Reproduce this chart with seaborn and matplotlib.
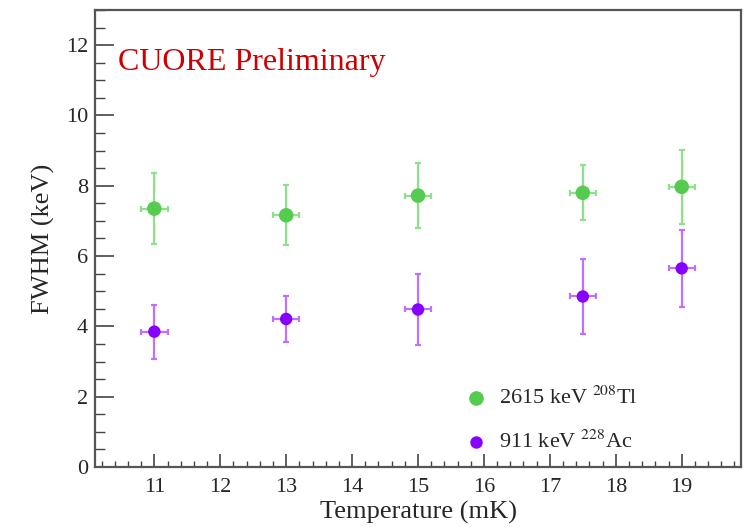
import matplotlib
matplotlib.use("Agg")
import matplotlib.pyplot as plt
import seaborn as sns
import pandas as pd
from matplotlib.ticker import MultipleLocator

# ---- data ----
temps = [11, 13, 15, 17.5, 19]
temp_err = [0.2, 0.2, 0.2, 0.2, 0.2]
tl_fwhm = [7.35, 7.16, 7.72, 7.80, 7.97]
tl_err = [1.02, 0.85, 0.93, 0.78, 1.06]
ac_fwhm = [3.85, 4.21, 4.48, 4.85, 5.65]
ac_err = [0.77, 0.66, 1.00, 1.08, 1.10]
series_labels = ["2615 keV $^{208}$Tl", "911 keV $^{228}$Ac"]
x_ticks = [11, 12, 13, 14, 15, 16, 17, 18, 19]
y_ticks = [0, 2, 4, 6, 8, 10, 12]

sns.set_style("ticks")
plt.rcParams["font.family"] = ["Liberation Serif", "DejaVu Serif"]
plt.rcParams["mathtext.fontset"] = "stix"

green = "#55cc4f"
green_err = "#8fe08a"
purple = "#8800ff"
purple_err = "#c070ff"

df = pd.DataFrame({
    "T": temps * 2,
    "FWHM": tl_fwhm + ac_fwhm,
    "series": [series_labels[0]] * len(temps) + [series_labels[1]] * len(temps),
})

fig = plt.figure(figsize=(7.47, 5.27), dpi=100)
ax = fig.add_axes([0.1272, 0.1139, 0.8648, 0.8671])

ax.errorbar(temps, tl_fwhm, yerr=tl_err, xerr=temp_err, fmt="none",
            ecolor=green_err, elinewidth=1.6, capsize=2, capthick=1.6, zorder=2)
ax.errorbar(temps, ac_fwhm, yerr=ac_err, xerr=temp_err, fmt="none",
            ecolor=purple_err, elinewidth=1.6, capsize=2, capthick=1.6, zorder=2)

sns.scatterplot(data=df, x="T", y="FWHM", hue="series", size="series",
                sizes={series_labels[0]: 110, series_labels[1]: 80},
                palette={series_labels[0]: green, series_labels[1]: purple},
                linewidth=0, ax=ax, zorder=3, legend=False)

# legend
h1 = ax.scatter([], [], s=110, color=green, linewidth=0)
h2 = ax.scatter([], [], s=80, color=purple, linewidth=0)
ax.legend([h1, h2], series_labels, loc="upper left",
          bbox_to_anchor=(0.556, 0.175), frameon=False, fontsize=16,
          labelspacing=0.95, handletextpad=0.0, borderpad=0, borderaxespad=0)

ax.set_xlim(10.1, 19.9)
ax.set_ylim(0, 13)
ax.set_xticks(x_ticks)
ax.set_yticks(y_ticks)
ax.xaxis.set_minor_locator(MultipleLocator(0.2))
ax.yaxis.set_minor_locator(MultipleLocator(0.5))
ax.tick_params(axis="x", which="major", direction="in", length=9.5, width=1.2,
               color="#444444", labelsize=16, pad=8)
ax.tick_params(axis="x", which="minor", direction="in", length=4.5, width=1.0,
               color="#444444")
ax.tick_params(axis="y", which="major", direction="in", length=14, width=1.2,
               color="#444444", labelsize=16, pad=5)
ax.tick_params(axis="y", which="minor", direction="in", length=7, width=1.0,
               color="#444444")

for s in ax.spines.values():
    s.set_color("#555555")
    s.set_linewidth(1.6)
    s.set_visible(True)

ax.set_xlabel("Temperature (mK)", fontsize=19, labelpad=3)
ax.set_ylabel("FWHM (keV)", fontsize=19, labelpad=8)

ax.text(0.035, 0.885, "CUORE Preliminary", transform=ax.transAxes,
        color="#cc0000", fontsize=23, ha="left", va="center")

fig.savefig("out.png", dpi=100)
